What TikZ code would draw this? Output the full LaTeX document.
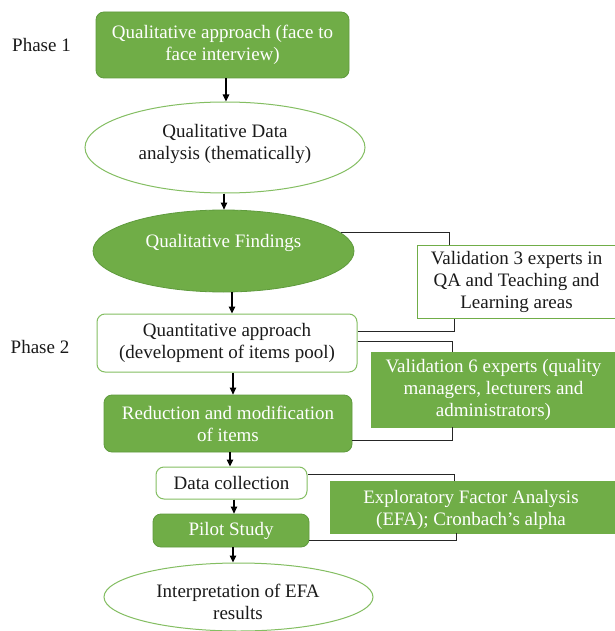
\documentclass[tikz,border=0pt]{standalone}
\usepackage{fontspec}
\setmainfont{Liberation Serif}
\usetikzlibrary{arrows.meta,shapes.geometric}
\definecolor{gfill}{HTML}{70AD47}
\definecolor{gline}{HTML}{5F9B3D}
\definecolor{lline}{HTML}{84BE62}
\definecolor{ink}{HTML}{1A1A1A}
\definecolor{conn}{HTML}{262626}
\begin{document}
\begin{tikzpicture}[x=1pt,y=-1pt,
  every node/.style={font=\fontsize{19}{22}\selectfont, inner sep=0pt, align=center},
  gbox/.style={rectangle, rounded corners=8pt, fill=gfill, draw=gline, line width=0.8pt, text=white},
  wbox/.style={rectangle, rounded corners=8pt, fill=white, draw=lline, line width=1pt, text=ink},
  gell/.style={ellipse, fill=gfill, draw=gline, line width=0.8pt, text=white},
  well/.style={ellipse, fill=white, draw=lline, line width=1pt, text=ink},
  gside/.style={rectangle, fill=gfill, draw=gfill, line width=0.8pt, text=white},
  wside/.style={rectangle, fill=white, draw=gfill, line width=1pt, text=ink},
  arr/.style={draw=black, line width=1.1pt, -{Triangle[length=7pt,width=6.5pt]}},
  link/.style={draw=conn, line width=0.9pt},
  lbl/.style={text=ink}
]
\useasboundingbox[fill=white] (0,0) rectangle (614,631);

% main column
\node[gbox, minimum width=253pt, minimum height=66pt] (b1) at (222.5,45) {Qualitative approach (face to\\face interview)};
\node[lbl] (ph1) at (41.5,45) {Phase 1};
\node[well, minimum width=280pt, minimum height=91pt] (e2) at (225,147.5) {};
\node[lbl] (e2t) at (225,144) {Qualitative Data\\analysis (thematically)};
\node[gell, minimum width=261pt, minimum height=82pt] (e3) at (223.5,251) {};
\node[text=white] (e3t) at (223.5,243) {Qualitative Findings};
\node[wbox, minimum width=260pt, minimum height=58pt] (b4) at (227,343) {Quantitative approach\\(development of items pool)};
\node[lbl] (ph2) at (40,347) {Phase 2};
\node[gbox, minimum width=248pt, minimum height=57pt] (b5) at (228,423.5) {Reduction and modification\\of items};
\node[wbox, minimum width=151pt, minimum height=32pt] (b6) at (231.5,483) {Data collection};
\node[gbox, minimum width=156pt, minimum height=33pt] (b7) at (231,530.5) {Pilot Study};
\node[well, minimum width=269pt, minimum height=68pt] (e8) at (238.5,597) {};
\node[lbl] (e8t) at (238,601.5) {Interpretation of EFA\\results};

% side boxes
\node[wside, minimum width=199pt, minimum height=73pt] (v3) at (516.5,281.5) {Validation 3 experts in\\QA and Teaching and\\Learning areas};
\node[gside, minimum width=245pt, minimum height=75pt] (v6) at (493.5,389.5) {Validation 6 experts (quality\\managers, lecturers and\\administrators)};
\node[gside, minimum width=286pt, minimum height=52pt] (efa) at (473,507) {};
\node[text=white] (efat) at (471,510) {Exploratory Factor Analysis\\(EFA); Cronbach’s alpha};

% arrows
\draw[arr] ([xshift=3.5pt]b1.south) -- ([xshift=1pt]e2.north);
\draw[arr] ([xshift=-1pt]e2.south) -- ([xshift=0.5pt]e3.north);
\draw[arr] ([xshift=8.5pt]e3.south) -- ([xshift=5pt]b4.north);
\draw[arr] ([xshift=6pt]b4.south) -- ([xshift=5pt]b5.north);
\draw[arr] ([xshift=2pt]b5.south) -- ([xshift=-1.5pt]b6.north);
\draw[arr] ([xshift=2.5pt]b6.south) -- ([xshift=3pt]b7.north);
\draw[arr] ([xshift=2pt]b7.south) -- ([xshift=-5.5pt]e8.north);

% connectors
\draw[link] (e3.9) -| ([xshift=-67.5pt]v3.north);
\draw[link] ([yshift=12pt]b4.east) -| ([xshift=-62.5pt]v3.south);
\draw[link] ([yshift=2pt]b4.east) -| ([xshift=-41.5pt]v6.north);
\draw[link] ([yshift=-16.5pt]b5.east) -| ([xshift=-41.5pt]v6.south);
\draw[link] ([yshift=9pt]b6.east) -| ([xshift=-19pt]efa.north);
\draw[link] ([yshift=-9.5pt]b7.east) -| ([xshift=-17pt]efa.south);
\end{tikzpicture}
\end{document}
